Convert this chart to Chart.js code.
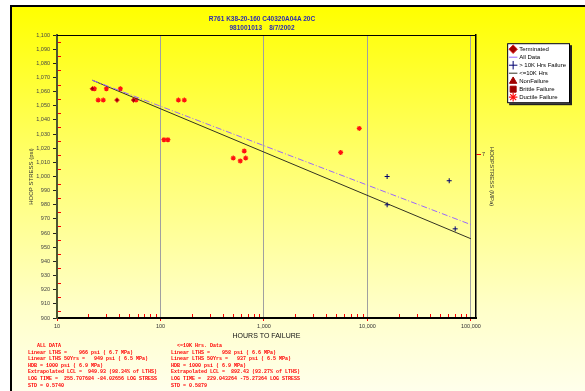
<!DOCTYPE html>
<html>
<head>
<meta charset="utf-8">
<script src="https://cdn.jsdelivr.net/npm/chart.js@4.4.1/dist/chart.umd.min.js"></script>
<style>
  body { margin: 0; background: #fff; }
  #wrap { position: relative; width: 585px; height: 391px; overflow: hidden; }
  #frame {
    position: absolute; left: 10px; top: 5px; width: 590px; height: 400px;
    border-left: 2px solid #000; border-top: 2px solid #000;
    background: linear-gradient(to bottom, #ffff00 0%, #ffff70 40%, #ffffc8 75%, #fffff2 100%);
  }
  #c { position: absolute; left: 0; top: 0; }
  .title {
    position: absolute; left: 112px; width: 300px; text-align: center;
    font: bold 6.5px "Liberation Sans", Arial, sans-serif; color: #2b2bb0; white-space: pre;
  }
  .stats {
    position: absolute; top: 343px; font: bold 5px "Liberation Mono", monospace;
    color: #ff0000; line-height: 6.6px; white-space: pre;
  }
</style>
</head>
<body>
<div id="wrap">
  <div id="frame"></div>
  <canvas id="c" width="585" height="391"></canvas>
  <div class="title" id="t1" style="top:15px"></div>
  <div class="title" id="t2" style="top:24px"></div>
  <div class="stats" id="s1" style="left:28px"></div>
  <div class="stats" id="s2" style="left:171px"></div>
</div>
<script>
// chart values
const termHours = [22, 38, 55];
const termPsi = [1062, 1054, 1054];
const ductileHours = [23, 30, 41, 25, 28, 58, 149, 170, 108, 118, 505, 590, 645, 666, 5510, 8340];
const ductilePsi = [1062, 1062, 1062, 1054, 1054, 1054, 1054, 1054, 1026, 1026, 1013, 1011, 1018, 1013, 1017, 1034];
const over10kHours = [15500, 15500, 61700, 70500];
const over10kPsi = [1000, 980, 997, 963];
const allFitHours = [22, 100000];
const allFitPsi = [1068, 966];
const under10kFitHours = [22, 100000];
const under10kFitPsi = [1068, 956];
const nonFailHours = [];
const nonFailPsi = [];
const brittleHours = [];
const brittlePsi = [];
const xTickValues = [10, 100, 1000, 10000, 100000];
const mpaTicks = [7];

const titleLines = ["R761 K38-20-160 C40320A04A 20C", "981001013    8/7/2002"];
const statsAll = [
    "   ALL DATA",
    "Linear LTHS =    966 psi ( 6.7 MPa)",
    "Linear LTHS 50Yrs =   949 psi ( 6.5 MPa)",
    "HDB = 1000 psi ( 6.9 MPa)",
    "Extrapolated LCL =  949.93 (98.34% of LTHS)",
    "LOG TIME =  255.707684 -84.02656 LOG STRESS",
    "STD = 0.5740"
];
const statsUnder = [
    "  <=10K Hrs. Data",
    "Linear LTHS =    958 psi ( 6.6 MPa)",
    "Linear LTHS 50Yrs =   937 psi ( 6.5 MPa)",
    "HDB = 1000 psi ( 6.9 MPa)",
    "Extrapolated LCL =  892.43 (93.27% of LTHS)",
    "LOG TIME =  229.043264 -75.27364 LOG STRESS",
    "STD = 0.5879"
];

document.getElementById("t1").textContent = titleLines[0];
document.getElementById("t2").textContent = titleLines[1];
document.getElementById("s1").textContent = statsAll.join("\n");
document.getElementById("s2").textContent = statsUnder.join("\n");

const PSI_PER_MPA = 145.038;
const RIGHT_PAD = 9;
const pts = (xs, ys) => xs.map((h, i) => ({ x: h, y: ys[i] }));

Chart.defaults.font.family = "'Liberation Sans', Arial, sans-serif";
Chart.defaults.font.size = 6.5;
Chart.defaults.color = "#333";

/* minor ticks, top border and the legend box */
const decorations = {
    id: "decorations",
    beforeDraw(chart) {
        const lg = chart.legend;
        if (!lg || !lg.legendHitBoxes || !lg.legendHitBoxes.length) return;
        const hb = lg.legendHitBoxes;
        const first = hb[0], last = hb[hb.length - 1];
        const left = first.left - 3;
        const top = first.top - 3;
        const right = Math.max(...hb.map(b => b.left + b.width)) + 4;
        const bottom = last.top + last.height + 3;
        const ctx = chart.ctx;
        ctx.save();
        ctx.fillStyle = "#222";
        ctx.fillRect(left + 2, top + 2, right - left, bottom - top);
        ctx.fillStyle = "#fff";
        ctx.fillRect(left, top, right - left, bottom - top);
        ctx.strokeStyle = "#000";
        ctx.lineWidth = 1;
        ctx.strokeRect(left + 0.5, top + 0.5, right - left - 1, bottom - top - 1);
        ctx.restore();
    },
    afterDraw(chart) {
        const { ctx, chartArea: a, scales: { x, y } } = chart;
        ctx.save();
        ctx.strokeStyle = "#ff0000";
        ctx.lineWidth = 1;
        ctx.beginPath();
        for (let v = 905; v < 1100; v += 10) {
            const py = Math.round(y.getPixelForValue(v)) + 0.5;
            ctx.moveTo(a.left + 1, py);
            ctx.lineTo(a.left + 4, py);
        }
        xTickValues.forEach(d => {
            for (let m = 2; m <= 9; m++) {
                const v = d * m;
                if (v > x.max) break;
                const px = Math.round(x.getPixelForValue(v)) + 0.5;
                ctx.moveTo(px, a.bottom - 1);
                ctx.lineTo(px, a.bottom - 4);
            }
        });
        ctx.stroke();
        ctx.strokeStyle = "#000";
        ctx.beginPath();
        ctx.moveTo(a.left, a.top + 0.5);
        ctx.lineTo(a.right, a.top + 0.5);
        ctx.stroke();
        ctx.restore();
    }
};

new Chart(document.getElementById("c"), {
    type: "scatter",
    data: {
        datasets: [
            {
                label: "Terminated",
                data: pts(termHours, termPsi),
                pointStyle: "rectRot",
                pointRadius: 2.3,
                backgroundColor: "#a00000",
                borderColor: "#e02020",
                borderWidth: 1
            },
            {
                label: "All Data",
                type: "line",
                data: pts(allFitHours, allFitPsi),
                showLine: true,
                pointRadius: 0,
                pointStyle: "line",
                borderColor: "#9966ff",
                backgroundColor: "#9966ff",
                borderWidth: 1,
                borderDash: [6, 2, 1, 2],
                fill: false
            },
            {
                label: "> 10K Hrs Failure",
                data: pts(over10kHours, over10kPsi),
                pointStyle: "cross",
                pointRadius: 2.5,
                borderColor: "#000070",
                backgroundColor: "#000070",
                borderWidth: 1
            },
            {
                label: "<=10K Hrs",
                type: "line",
                data: pts(under10kFitHours, under10kFitPsi),
                showLine: true,
                pointRadius: 0,
                pointStyle: "line",
                borderColor: "#333322",
                backgroundColor: "#333322",
                borderWidth: 1,
                fill: false
            },
            {
                label: "NonFailure",
                data: pts(nonFailHours, nonFailPsi),
                pointStyle: "triangle",
                pointRadius: 3,
                backgroundColor: "#a00000",
                borderColor: "#a00000"
            },
            {
                label: "Brittle Failure",
                data: pts(brittleHours, brittlePsi),
                pointStyle: "rect",
                pointRadius: 3,
                backgroundColor: "#a00000",
                borderColor: "#a00000"
            },
            {
                label: "Ductile Failure",
                data: pts(ductileHours, ductilePsi),
                pointStyle: "star",
                pointRadius: 2.5,
                backgroundColor: "#ff0000",
                borderColor: "#ff1010",
                borderWidth: 1.2
            }
        ]
    },
    options: {
        responsive: false,
        animation: false,
        layout: {
            padding: { left: 27, top: 35, right: RIGHT_PAD, bottom: 49 }
        },
        plugins: {
            legend: {
                position: "right",
                align: "start",
                title: { display: true, text: " ", font: { size: 1 }, padding: { top: 0, bottom: 8 } },
                labels: {
                    usePointStyle: true,
                    boxWidth: 6,
                    boxHeight: 6,
                    padding: 2,
                    color: "#000",
                    font: { size: 6 }
                }
            },
            tooltip: { enabled: false }
        },
        scales: {
            x: {
                type: "logarithmic",
                min: 10,
                max: 112000,
                afterBuildTicks: s => { s.ticks = xTickValues.map(v => ({ value: v })); },
                afterFit: s => { s.height = 24; },
                ticks: {
                    autoSkip: false,
                    maxRotation: 0,
                    padding: 2,
                    color: "#333",
                    font: { size: 5.5 },
                    callback: v => Number(v).toLocaleString("en-US")
                },
                grid: {
                    color: "#a0a0a0",
                    lineWidth: 1,
                    tickColor: "#ff0000",
                    tickLength: 3
                },
                border: { color: "#000", width: 2 },
                title: {
                    display: true,
                    text: "HOURS TO FAILURE",
                    color: "#111",
                    font: { size: 7 },
                    padding: { top: 0, bottom: 2 }
                }
            },
            y: {
                min: 900,
                max: 1100,
                afterFit: s => { s.width = 30; },
                ticks: {
                    stepSize: 10,
                    autoSkip: false,
                    padding: 3,
                    color: "#444",
                    font: { size: 5.5 },
                    callback: v => Number(v).toLocaleString("en-US")
                },
                grid: {
                    drawOnChartArea: false,
                    tickColor: "#222",
                    tickLength: 4
                },
                border: { color: "#4b5530", width: 2 },
                title: {
                    display: true,
                    text: "HOOP STRESS (psi)",
                    color: "#333",
                    font: { size: 6 },
                    padding: { top: 1, bottom: 0 }
                }
            },
            y2: {
                position: "right",
                min: 900,
                max: 1100,
                afterBuildTicks: s => { s.ticks = mpaTicks.map(m => ({ value: m * PSI_PER_MPA })); },
                afterFit: s => {
                    const lw = s.chart.legend ? s.chart.legend.width : 64;
                    s.width = Math.max(20, 585 - RIGHT_PAD - lw - 476);
                },
                ticks: {
                    padding: 1,
                    color: "#333",
                    font: { size: 5.5 },
                    callback: v => Math.round(v / PSI_PER_MPA).toString()
                },
                grid: {
                    drawOnChartArea: false,
                    tickColor: "#ff0000",
                    tickLength: 5
                },
                border: { color: "#000", width: 1.5 },
                title: {
                    display: true,
                    text: "HOOPSTRESS (MPa)",
                    color: "#333",
                    font: { size: 6 },
                    padding: { top: 13, bottom: 0 }
                }
            }
        }
    },
    plugins: [decorations]
});
</script>
</body>
</html>
